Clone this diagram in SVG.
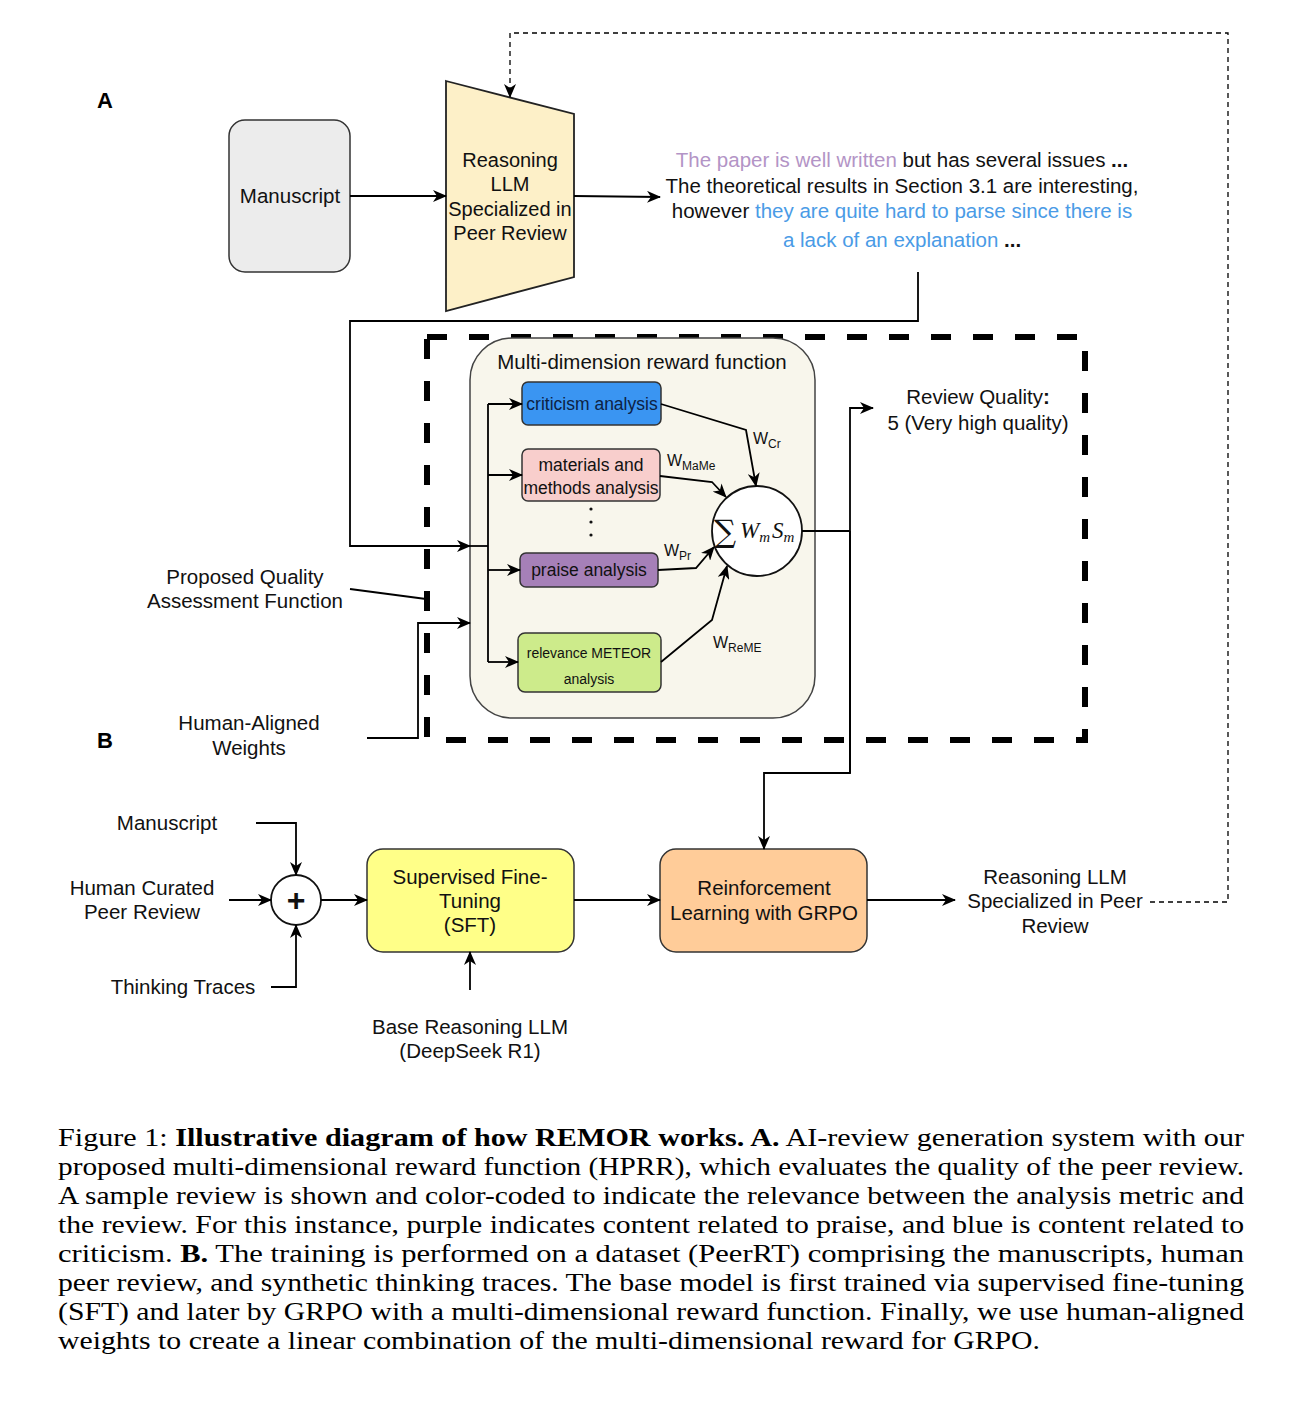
<svg xmlns="http://www.w3.org/2000/svg" width="1299" height="1414" viewBox="0 0 1299 1414">
<style>
.t{font-family:"Liberation Sans",Arial,sans-serif;font-size:20.5px;fill:#111;text-anchor:middle}
.s{font-family:"Liberation Sans",Arial,sans-serif;font-size:17.5px;fill:#111;text-anchor:middle}
.w{font-family:"Liberation Sans",Arial,sans-serif;font-size:16px;fill:#111}
.c{font-family:"Liberation Serif","Times New Roman",serif;font-size:26px;fill:#000}
.ln{fill:none;stroke:#000;stroke-width:1.8}
.ar{fill:none;stroke:#000;stroke-width:1.8;marker-end:url(#ah)}
.box{stroke:#333;stroke-width:1.5}
</style>
<defs>
<marker id="ah" viewBox="0 0 14 12" refX="13" refY="6" markerWidth="14" markerHeight="12" markerUnits="userSpaceOnUse" orient="auto">
<path d="M0,0 L14,6 L0,12 L4,6 Z" fill="#000"/>
</marker>
</defs>
<rect width="1299" height="1414" fill="#fff"/>

<text x="97" y="108" style="font-family:'Liberation Sans',Arial,sans-serif;font-size:22px;font-weight:bold">A</text>
<text x="97" y="748" style="font-family:'Liberation Sans',Arial,sans-serif;font-size:22px;font-weight:bold">B</text>

<g id="dashed-frame">
<rect x="427" y="337" width="658" height="403" fill="none" stroke="#000" stroke-width="6" stroke-dasharray="20,22"/>
</g>

<g id="manuscript">
<rect x="229" y="120" width="121" height="152" rx="16" fill="#ececec" class="box"/>
<text x="290" y="203" class="t">Manuscript</text>
</g>

<g id="reasoning-llm">
<polygon points="446,81 574,114 574,277 446,311" fill="#fdf0c8" stroke="#222" stroke-width="1.8"/>
<text x="510" y="167" class="t" style="font-size:20px">Reasoning</text>
<text x="510" y="191" class="t" style="font-size:20px">LLM</text>
<text x="510" y="216" class="t" style="font-size:20px">Specialized in</text>
<text x="510" y="240" class="t" style="font-size:20px">Peer Review</text>
</g>

<g id="review-text">
<text x="902" y="167" class="t"><tspan fill="#b394c6">The paper is well written</tspan> but has several issues <tspan font-weight="bold">...</tspan></text>
<text x="902" y="193" class="t">The theoretical results in Section 3.1 are interesting,</text>
<text x="902" y="218" class="t">however <tspan fill="#4a9be6">they are quite hard to parse since there is</tspan></text>
<text x="902" y="247" class="t"><tspan fill="#4a9be6">a lack of an explanation</tspan> <tspan font-weight="bold">...</tspan></text>
</g>

<g id="reward-function">
<rect x="470" y="338" width="345" height="380" rx="42" fill="#f8f6ec" stroke="#444" stroke-width="1.5"/>
<text x="642" y="369" class="t">Multi-dimension reward function</text>
</g>

<g id="criticism">
<rect x="522" y="382" width="139" height="43" rx="6" fill="#3a95f2" class="box"/>
<text x="592" y="410" class="s" style="fill:#0d2244">criticism analysis</text>
</g>

<g id="materials">
<rect x="522" y="449" width="138" height="52" rx="6" fill="#f8cecc" class="box"/>
<text x="591" y="471" class="s">materials and</text>
<text x="591" y="494" class="s">methods analysis</text>
</g>

<g id="dots">
<circle cx="591" cy="509" r="1.6" fill="#111"/>
<circle cx="591" cy="522" r="1.6" fill="#111"/>
<circle cx="591" cy="535" r="1.6" fill="#111"/>
</g>

<g id="praise">
<rect x="520" y="553" width="138" height="34" rx="6" fill="#a680b8" class="box"/>
<text x="589" y="576" class="s">praise analysis</text>
</g>

<g id="relevance">
<rect x="518" y="633" width="143" height="59" rx="7" fill="#cdeb8b" class="box"/>
<text x="589" y="658" class="s" style="font-size:14px">relevance METEOR</text>
<text x="589" y="684" class="s" style="font-size:14px">analysis</text>
</g>

<g id="sum">
<circle cx="757" cy="531" r="45" fill="#fff" stroke="#111" stroke-width="1.8"/>
<text x="714" y="542" style="font-family:'DejaVu Serif','Liberation Serif',serif;font-size:31px;fill:#111">∑</text>
<text x="740" y="538" style="font-family:'Liberation Serif','Times New Roman',serif;font-size:23px;font-style:italic;fill:#111">W<tspan font-size="15" dy="4">m</tspan><tspan dy="-4" dx="2">S</tspan><tspan font-size="15" dy="4">m</tspan></text>
</g>

<g id="weights">
<text x="753" y="444" class="w">W<tspan font-size="12" dy="4">Cr</tspan></text>
<text x="667" y="466" class="w">W<tspan font-size="12" dy="4">MaMe</tspan></text>
<text x="664" y="556" class="w">W<tspan font-size="12" dy="4">Pr</tspan></text>
<text x="713" y="648" class="w">W<tspan font-size="12" dy="4">ReME</tspan></text>
</g>

<g id="review-quality">
<text x="978" y="404" class="t">Review Quality<tspan font-weight="bold">:</tspan></text>
<text x="978" y="430" class="t">5 (Very high quality)</text>
</g>

<g id="proposed-label">
<text x="245" y="584" class="t">Proposed Quality</text>
<text x="245" y="608" class="t">Assessment Function</text>
</g>

<g id="human-weights">
<text x="249" y="730" class="t">Human-Aligned</text>
<text x="249" y="755" class="t">Weights</text>
</g>

<g id="b-manuscript"><text x="167" y="830" class="t">Manuscript</text></g>
<g id="b-human"><text x="142" y="895" class="t">Human Curated</text><text x="142" y="919" class="t">Peer Review</text></g>
<g id="b-thinking"><text x="183" y="994" class="t">Thinking Traces</text></g>

<g id="plus">
<circle cx="296" cy="900" r="25" fill="#fff" stroke="#111" stroke-width="1.8"/>
<text x="296" y="911" class="t" style="font-size:32px;font-weight:bold">+</text>
</g>

<g id="sft">
<rect x="367" y="849" width="207" height="103" rx="16" fill="#ffff88" class="box"/>
<text x="470" y="884" class="t">Supervised Fine-</text>
<text x="470" y="908" class="t">Tuning</text>
<text x="470" y="932" class="t">(SFT)</text>
</g>

<g id="base-llm">
<text x="470" y="1034" class="t">Base Reasoning LLM</text>
<text x="470" y="1058" class="t">(DeepSeek R1)</text>
</g>

<g id="rl">
<rect x="660" y="849" width="207" height="103" rx="16" fill="#ffcc99" class="box"/>
<text x="764" y="895" class="t">Reinforcement</text>
<text x="764" y="920" class="t">Learning with GRPO</text>
</g>

<g id="output-llm">
<text x="1055" y="884" class="t">Reasoning LLM</text>
<text x="1055" y="908" class="t">Specialized in Peer</text>
<text x="1055" y="933" class="t">Review</text>
</g>

<g id="connectors">
<path class="ar" d="M350,196 L446,196"/>
<path class="ar" d="M574,196 L660,197"/>
<path class="ar" d="M918,272 L918,321 L350,321 L350,546 L470,546"/>
<path class="ln" d="M470,546 L488,546"/>
<path class="ln" d="M488,404 L488,662"/>
<path class="ar" d="M488,404 L522,404"/>
<path class="ar" d="M488,475 L522,475"/>
<path class="ar" d="M488,570 L520,570"/>
<path class="ar" d="M488,662 L518,662"/>
<path class="ar" d="M367,738 L418,738 L418,623 L470,623"/>
<path class="ln" d="M350,589 L426,599"/>
<path class="ar" d="M661,404 L746,430 L756,486"/>
<path class="ar" d="M660,476 L712,482 L726,497"/>
<path class="ar" d="M658,570 L696,568 L714,547"/>
<path class="ar" d="M661,662 L712,620 L727,566"/>
<path class="ln" d="M802,531 L850,531"/>
<path class="ar" d="M850,773 L850,408 L873,408"/>
<path class="ar" d="M850,531 L850,773 L764,773 L764,849"/>
<path fill="none" stroke="#000" stroke-width="1.3" stroke-dasharray="5,4" marker-end="url(#ah)" d="M1150,902 L1228,902 L1228,33 L510,33 L510,97"/>
<path class="ar" d="M256,823 L296,823 L296,875"/>
<path class="ar" d="M229,900 L271,900"/>
<path class="ar" d="M271,987 L296,987 L296,925"/>
<path class="ar" d="M321,900 L367,900"/>
<path class="ar" d="M470,990 L470,952"/>
<path class="ar" d="M574,900 L660,900"/>
<path class="ar" d="M867,900 L955,900"/>
</g>

<g id="caption">
<text x="58" y="1146" class="c" textLength="1186" lengthAdjust="spacingAndGlyphs">Figure 1: <tspan font-weight="bold">Illustrative diagram of how REMOR works. A.</tspan> AI-review generation system with our</text>
<text x="58" y="1175" class="c" textLength="1186" lengthAdjust="spacingAndGlyphs">proposed multi-dimensional reward function (HPRR), which evaluates the quality of the peer review.</text>
<text x="58" y="1204" class="c" textLength="1186" lengthAdjust="spacingAndGlyphs">A sample review is shown and color-coded to indicate the relevance between the analysis metric and</text>
<text x="58" y="1233" class="c" textLength="1186" lengthAdjust="spacingAndGlyphs">the review. For this instance, purple indicates content related to praise, and blue is content related to</text>
<text x="58" y="1262" class="c" textLength="1186" lengthAdjust="spacingAndGlyphs">criticism. <tspan font-weight="bold">B.</tspan> The training is performed on a dataset (PeerRT) comprising the manuscripts, human</text>
<text x="58" y="1291" class="c" textLength="1186" lengthAdjust="spacingAndGlyphs">peer review, and synthetic thinking traces. The base model is first trained via supervised fine-tuning</text>
<text x="58" y="1320" class="c" textLength="1186" lengthAdjust="spacingAndGlyphs">(SFT) and later by GRPO with a multi-dimensional reward function. Finally, we use human-aligned</text>
<text x="58" y="1349" class="c" textLength="982" lengthAdjust="spacingAndGlyphs">weights to create a linear combination of the multi-dimensional reward for GRPO.</text>
</g>
</svg>
